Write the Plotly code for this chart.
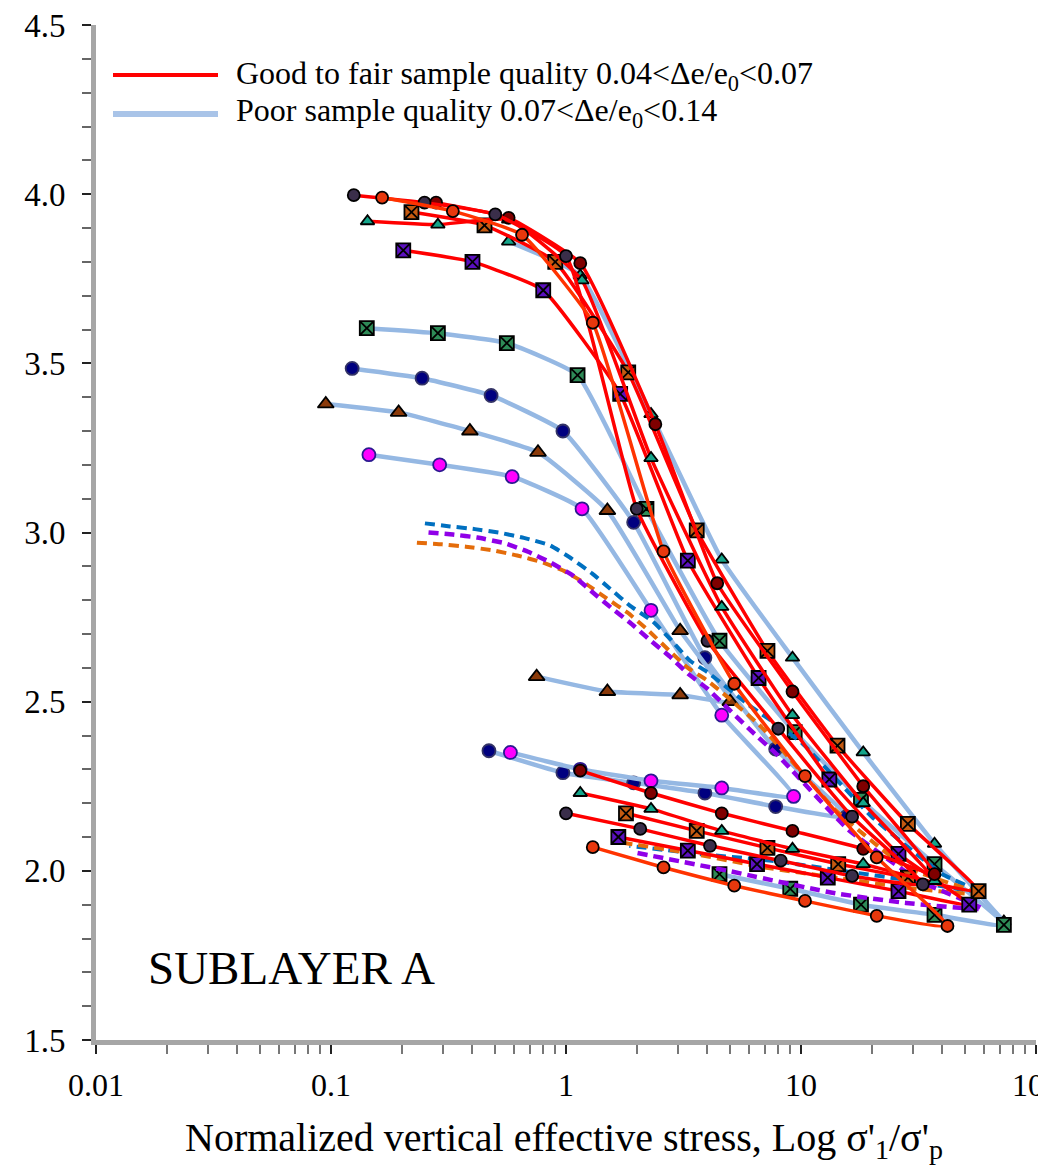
import plotly.graph_objects as go

# ---------------- data (x = sigma'1/sigma'p, y = void ratio e) ----------------
# Good to fair sample quality (red lines)
r1_x = [0.125, 0.25, 0.5, 1.0, 2.0, 4.0, 8.0, 16.5, 33, 16.5, 8.2, 4.1, 2.07, 1.0]
r1_y = [3.997, 3.975, 3.94, 3.817, 3.07, 2.68, 2.42, 2.16, 1.96, 1.985, 2.03, 2.074, 2.124, 2.17]

r2_x = [0.165, 0.33, 0.65, 1.3, 2.6, 5.2, 10.4, 21, 42, 21, 10.4, 5.2, 2.6, 1.3]
r2_y = [3.99, 3.95, 3.88, 3.62, 2.944, 2.553, 2.28, 2.04, 1.837, 1.867, 1.911, 1.956, 2.01, 2.07]

r3_x = [0.28, 0.57, 1.15, 2.4, 4.4, 9.2, 18.4, 37, 18.4, 9.2, 4.6, 2.3, 1.15]
r3_y = [3.975, 3.93, 3.796, 3.32, 2.85, 2.53, 2.25, 1.99, 2.065, 2.118, 2.17, 2.23, 2.296]

r4_x = [0.143, 0.285, 0.57, 1.17, 2.3, 4.6, 9.2, 18.4, 37, 18.4, 9.2, 4.6, 2.3, 1.15]
r4_y = [3.92, 3.91, 3.925, 3.745, 3.22, 2.78, 2.46, 2.2, 1.97, 2.02, 2.065, 2.118, 2.183, 2.23]

r5_x = [0.203, 0.40, 0.80, 1.7, 3.3, 6.6, 13.2, 26, 52, 26, 13, 6.5, 3.3, 1.67]
r5_y = [3.834, 3.80, 3.716, 3.41, 2.917, 2.57, 2.27, 2.05, 1.90, 1.94, 1.98, 2.02, 2.06, 2.10]

r6_x = [0.22, 0.45, 0.9, 1.84, 3.6, 7.2, 14.3, 28.5, 57, 28.5, 14.4, 7.2, 3.6, 1.8]
r6_y = [3.947, 3.908, 3.80, 3.473, 3.006, 2.65, 2.37, 2.139, 1.94, 1.98, 2.02, 2.068, 2.118, 2.17]

# Poor sample quality (light blue lines)
b1_x = [0.142, 0.285, 0.56, 1.12, 2.2, 4.5, 9.4, 18, 37, 73, 37, 18, 9, 4.5]
b1_y = [3.604, 3.589, 3.56, 3.465, 3.07, 2.68, 2.41, 2.21, 2.02, 1.84, 1.87, 1.90, 1.947, 1.99]

b2_x = [0.123, 0.244, 0.48, 0.97, 1.94, 3.9, 7.8, 15.6, 7.8, 3.9, 1.94, 0.97, 0.47]
b2_y = [3.485, 3.456, 3.405, 3.30, 3.03, 2.63, 2.36, 2.16, 2.19, 2.23, 2.26, 2.29, 2.355]

b3_x = [0.095, 0.194, 0.39, 0.76, 1.5, 3.06, 5.0, 3.06, 1.5, 0.75]
b3_y = [3.38, 3.355, 3.30, 3.237, 3.065, 2.71, 2.50, 2.52, 2.53, 2.574]

b4_x = [0.145, 0.29, 0.59, 1.17, 2.3, 4.6, 9.3, 4.6, 2.3, 1.15, 0.58]
b4_y = [3.23, 3.20, 3.165, 3.07, 2.77, 2.46, 2.22, 2.245, 2.266, 2.30, 2.35]

b5_x = [0.57, 1.15, 2.3, 4.6, 9.2, 18.4, 37, 73]
b5_y = [3.86, 3.76, 3.35, 2.92, 2.63, 2.35, 2.08, 1.85]

# Dashed reference curves (loading then unloading)
d1_x = [0.251, 0.321, 0.41, 0.524, 0.662, 0.855, 1.04, 1.29, 1.54, 1.87, 2.34, 2.77, 3.37, 4.02,
        6.0, 10, 20, 40, 59, 30, 15, 7.5, 3.7, 1.86]
d1_y = [3.027, 3.018, 3.01, 2.999, 2.984, 2.962, 2.926, 2.879, 2.834, 2.784, 2.737, 2.686, 2.621, 2.586,
        2.49, 2.38, 2.16, 1.99, 1.935, 1.97, 2.0, 2.03, 2.05, 2.074]

d2_x = [0.26, 0.33, 0.42, 0.55, 0.69, 0.855, 1.07, 1.29, 1.56, 1.87, 2.27, 2.77, 3.3, 4.0,
        6.0, 8, 16, 32, 59, 28, 13.6, 4.9, 2.0]
d2_y = [3.0, 2.994, 2.985, 2.968, 2.943, 2.912, 2.873, 2.825, 2.777, 2.734, 2.683, 2.633, 2.583, 2.538,
        2.42, 2.34, 2.12, 1.97, 1.888, 1.905, 1.935, 2.0, 2.053]

d3_x = [0.232, 0.297, 0.375, 0.49, 0.62, 0.8, 0.99, 1.23, 1.49, 1.83, 2.22, 2.75, 3.3, 4.0, 4.9,
        6.9, 14, 28, 59, 28, 14, 7, 3.5, 1.75]
d3_y = [2.97, 2.965, 2.958, 2.947, 2.932, 2.911, 2.885, 2.846, 2.805, 2.763, 2.713, 2.651, 2.6, 2.562, 2.512,
        2.42, 2.18, 2.01, 1.93, 1.95, 1.98, 2.01, 2.05, 2.083]

x_tickvals = [0.01, 0.1, 1, 10, 100]
x_ticktext = ["0.01", "0.1", "1", "10", "100"]
y_tickvals = [1.5, 2.0, 2.5, 3.0, 3.5, 4.0, 4.5]

legend_good = "Good to fair sample quality 0.04&lt;Δe/e<sub>0</sub>&lt;0.07"
legend_poor = "Poor sample quality 0.07&lt;Δe/e<sub>0</sub>&lt;0.14"
x_title = "Normalized vertical effective stress, Log σ'<sub>1</sub>/σ'<sub>p</sub>"
panel_label = "SUBLAYER A"

# ---------------- styles ----------------
RED = "#FF0000"
ORED = "#FF3300"
BLUE = "#95B8E3"

fig = go.Figure()

def add(x, y, color, width, symbol=None, fill=None, edge="black", dash="solid", msize=13):
    mode = "lines+markers" if symbol else "lines"
    marker = dict(symbol=symbol, size=msize, color=fill, line=dict(color=edge, width=1.8)) if symbol else None
    fig.add_trace(go.Scatter(x=x, y=y, mode=mode, showlegend=False, hoverinfo="skip",
                             line=dict(color=color, width=width, dash=dash, shape="spline", smoothing=0.4),
                             marker=marker))

# blue (poor) curves first
add(b5_x, b5_y, BLUE, 4.5, "triangle-up", "#14A58A", msize=12)
add(b1_x, b1_y, BLUE, 4.5, "square-x", "#2E8B57", msize=14)
add(b2_x, b2_y, BLUE, 4.5, "circle", "#000080", edge="#333366", msize=13)
add(b3_x, b3_y, BLUE, 4.5, "triangle-up", "#8B3A0A", msize=14)
add(b4_x, b4_y, BLUE, 4.5, "circle", "#FF00FF", edge="#2A1A90", msize=13)

# dashed curves
add(d1_x, d1_y, "#0070C0", 4, dash="10px,6px")
add(d3_x, d3_y, "#E46C0A", 4, dash="10px,6px")
add(d2_x, d2_y, "#9000E8", 4.5, dash="10px,6px")

# red (good to fair) curves
add(r5_x, r5_y, RED, 3.5, "square-x", "#5B10BF", msize=14)
add(r6_x, r6_y, RED, 3.5, "square-x", "#C55A11", msize=14)
add(r4_x, r4_y, RED, 3.5, "triangle-up", "#14A58A", msize=12)
add(r3_x, r3_y, RED, 3.5, "circle", "#7F0000", msize=12)
add(r1_x, r1_y, RED, 3.5, "circle", "#3A2E4A", msize=12)
add(r2_x, r2_y, ORED, 3.5, "circle", "#E8380D", msize=12)

# ---------------- layout ----------------
L, R, T, B = 96, 2, 25, 130
W, H = 1038, 1170
pw, ph = W - L - R, H - T - B

def px_x(px):
    return (px - L) / pw

def px_y(py):
    return 1 - (py - T) / ph

fig.update_layout(
    width=W, height=H,
    margin=dict(l=L, r=R, t=T, b=B, pad=0, autoexpand=False),
    paper_bgcolor="white", plot_bgcolor="white",
    font=dict(family="Liberation Serif, Times New Roman, serif", color="black"),
    xaxis=dict(type="log", range=[-2, 2], tickvals=x_tickvals, ticktext=x_ticktext,
               automargin=False,
               showgrid=False, zeroline=False, showline=True, linecolor="#A6A6A6", linewidth=5,
               ticks="outside", ticklen=9, tickwidth=2, tickcolor="#222",
               tickfont=dict(size=32), ticklabeloverflow="allow", ticklabelstandoff=4,
               minor=dict(ticks="outside", ticklen=9, tickwidth=2, tickcolor="#777", dtick="D1", showgrid=False)),
    yaxis=dict(range=[1.5, 4.5], tickvals=y_tickvals, tickformat=".1f",
               automargin=False,
               showgrid=False, zeroline=False, showline=True, linecolor="#A6A6A6", linewidth=5,
               ticks="outside", ticklen=9, tickwidth=2, tickcolor="#222",
               tickfont=dict(size=33), ticklabelstandoff=10,
               minor=dict(ticks="outside", ticklen=9, tickwidth=2, tickcolor="#666", dtick=0.1, showgrid=False)),
)

# legend drawn as shapes + text
fig.add_shape(type="line", xref="paper", yref="paper", x0=px_x(113), x1=px_x(218),
              y0=px_y(75), y1=px_y(75), line=dict(color=RED, width=4))
fig.add_shape(type="line", xref="paper", yref="paper", x0=px_x(113), x1=px_x(218),
              y0=px_y(114), y1=px_y(114), line=dict(color="#A9C4E8", width=6))
fig.add_annotation(xref="paper", yref="paper", x=px_x(234), y=px_y(75), text=legend_good,
                   showarrow=False, xanchor="left", yanchor="middle", font=dict(size=32))
fig.add_annotation(xref="paper", yref="paper", x=px_x(234), y=px_y(113), text=legend_poor,
                   showarrow=False, xanchor="left", yanchor="middle", font=dict(size=32))

fig.add_annotation(xref="paper", yref="paper", x=px_x(146), y=px_y(968), text=panel_label,
                   showarrow=False, xanchor="left", yanchor="middle", font=dict(size=47))

fig.add_annotation(xref="paper", yref="paper", x=px_x(564), y=px_y(1140), text=x_title,
                   showarrow=False, xanchor="center", yanchor="middle", font=dict(size=40))

fig.write_html("out.html")
